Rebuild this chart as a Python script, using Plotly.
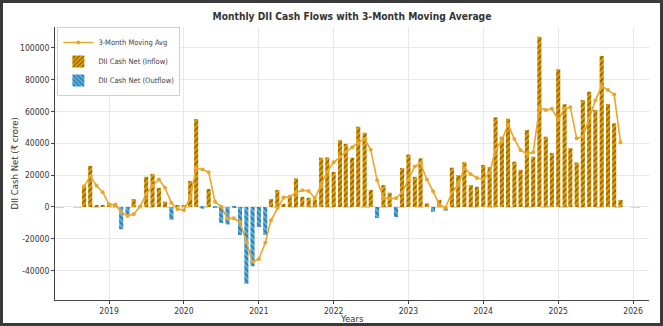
import pandas as pd
import plotly.graph_objects as go

# Monthly DII cash net flows (₹ crore), month-start dates from Sep 2018
start_month = "2018-09-01"
flows_2018 = [13000, 25800, 1200, 800]
flows_2019 = [2500, 1500, -14000, -4500, 5000, 300, 19000, 20800, 12000, 3400, -8000, 800]
flows_2020 = [1000, 16300, 55300, -1000, 11300, -500, -10000, -11000, -300, -17600, -48300, -37300]
flows_2021 = [-12600, -17600, 5000, 10700, 2000, 7000, 18000, 6400, 5800, 4700, 31000, 31200]
flows_2022 = [22000, 42000, 39700, 31000, 50500, 46700, 10700, -7000, 13800, 9000, -6300, 24500]
flows_2023 = [33000, 19000, 30600, 2200, -3000, 4400, -2300, 24700, 20000, 28200, 13800, 12700]
flows_2024 = [26400, 25200, 56400, 44200, 55500, 28500, 23300, 48400, 31600, 107000, 44200, 34000]
flows_2025 = [86600, 64600, 37000, 28000, 67300, 72500, 61000, 95000, 64800, 52600, 4400]

year_ticks = ["2019", "2020", "2021", "2022", "2023", "2024", "2025", "2026"]
y_ticks = [-40000, -20000, 0, 20000, 40000, 60000, 80000, 100000]

flows = (flows_2018 + flows_2019 + flows_2020 + flows_2021 + flows_2022
         + flows_2023 + flows_2024 + flows_2025)
months = pd.date_range(start_month, periods=len(flows), freq="MS")
s = pd.Series(flows, index=months)
ma3 = s.rolling(3, min_periods=1).mean()

inflow = [v if v >= 0 else None for v in flows]
outflow = [v if v < 0 else None for v in flows]

ORANGE = "#E69F00"
BLUE = "#56B4E9"
LINE = "#EAA62A"
FONT = "DejaVu Sans Condensed, DejaVu Sans, sans-serif"
bar_w = 20 * 86400000

fig = go.Figure()
fig.add_trace(go.Bar(
    x=months, y=inflow, name="DII Cash Net (Inflow)", width=bar_w,
    marker=dict(color=ORANGE, line=dict(width=0),
                pattern=dict(shape="/", fgcolor="#2a1c08", size=4, solidity=0.38)),
    legendrank=2,
))
fig.add_trace(go.Bar(
    x=months, y=outflow, name="DII Cash Net (Outflow)", width=bar_w,
    marker=dict(color=BLUE, line=dict(width=0),
                pattern=dict(shape="\\", fgcolor="#0e2a3c", size=4, solidity=0.38)),
    legendrank=3,
))
fig.add_trace(go.Scatter(
    x=months, y=ma3, name="3-Month Moving Avg", mode="lines+markers",
    line=dict(color=LINE, width=1.6), marker=dict(size=4, color=LINE),
    legendrank=1,
))

L, R, T, B = 55, 14, 27, 26
W, H = 663, 326
pw, ph = W - L - R, H - T - B

fig.update_layout(
    width=W, height=H,
    margin=dict(l=L, r=R, t=T, b=B, autoexpand=False),
    paper_bgcolor="white", plot_bgcolor="white",
    barmode="overlay",
    font=dict(family=FONT, size=8.5, color="#333333"),
    title=dict(text="<b>Monthly DII Cash Flows with 3-Month Moving Average</b>",
               x=(L + pw / 2) / W, xanchor="center", y=1 - 16 / H, yanchor="middle",
               font=dict(family=FONT, size=10.2, color="#333333")),
    legend=dict(x=0.004, y=1.0, xanchor="left", yanchor="top",
                bgcolor="rgba(255,255,255,0.85)", bordercolor="#d0d0d0", borderwidth=1,
                font=dict(size=7.5, color="#444444"), tracegroupgap=0,
                itemwidth=30),
    showlegend=True,
)
fig.update_xaxes(
    type="date", range=["2018-04-12", "2026-03-20"],
    tickvals=[f"{y}-01-01" for y in year_ticks], ticktext=year_ticks,
    showgrid=True, gridcolor="#e8e8e8", gridwidth=1,
    showline=True, linecolor="#444444", linewidth=1,
    ticks="outside", ticklen=3, tickcolor="#444444", ticklabelstandoff=0,
    zeroline=False, automargin=False,
)
fig.update_yaxes(
    range=[-58500, 113200],
    tickvals=y_ticks, ticktext=[str(v) for v in y_ticks],
    showgrid=True, gridcolor="#e8e8e8", gridwidth=1,
    showline=True, linecolor="#444444", linewidth=1,
    ticks="outside", ticklen=3, tickcolor="#444444",
    zeroline=False, automargin=False,
)
# axis titles
fig.add_annotation(text="Years", xref="paper", yref="paper",
                   x=0.5, y=-(318 - (T + ph)) / ph, xanchor="center", yanchor="middle",
                   showarrow=False, font=dict(family=FONT, size=9.5, color="#333333"))
fig.add_annotation(text="DII Cash Net (₹ crore)", xref="paper", yref="paper",
                   x=(14 - L) / pw, y=0.5, xanchor="center", yanchor="middle",
                   textangle=-90, showarrow=False,
                   font=dict(family=FONT, size=9.5, color="#333333"))
# dashed zero reference line
fig.add_shape(type="line", xref="paper", yref="y", x0=0, x1=1, y0=0, y1=0,
              line=dict(color=ORANGE, width=1, dash="dash"), layer="below")
# outer frame around figure
fig.add_shape(type="rect", xref="paper", yref="paper",
              x0=(1.5 - L) / pw, x1=(W - 1.5 - L) / pw,
              y0=-(B - 1.5) / ph, y1=1 + (T - 1.5) / ph,
              line=dict(color="#3a3a3a", width=3), fillcolor="rgba(0,0,0,0)")
fig.write_html("out.html")
